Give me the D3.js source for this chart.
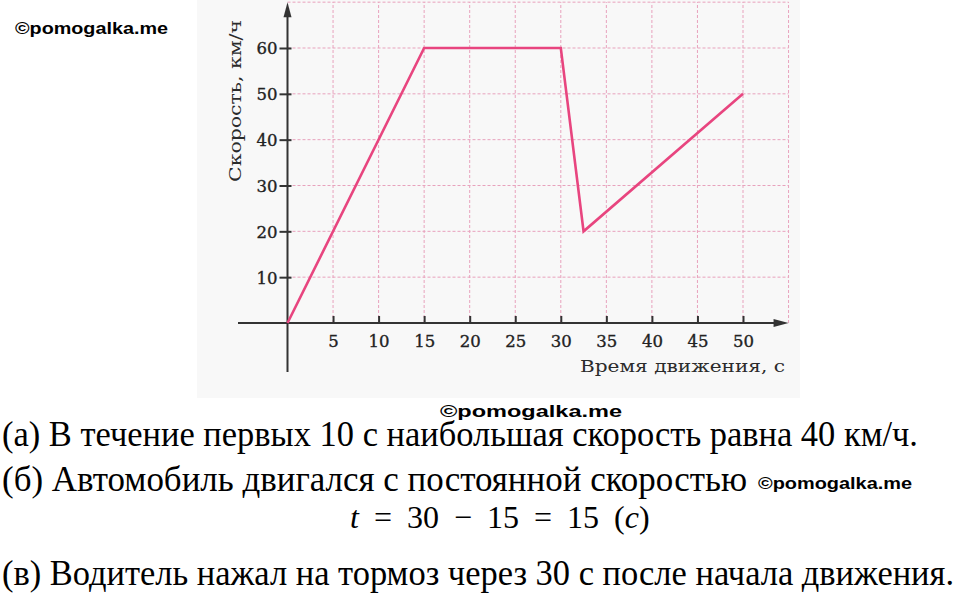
<!DOCTYPE html>
<html>
<head>
<meta charset="utf-8">
<script src="https://cdn.jsdelivr.net/npm/d3@7"></script>
<style>
  html, body { margin: 0; padding: 0; background: #ffffff; }
  svg { display: block; }
</style>
</head>
<body>
<svg id="chart" width="960" height="594"></svg>
<script>
// ---- data ----
const times = [0, 15, 30, 32.5, 50];
const speeds = [0, 60, 60, 20, 50];
const xTicks = [5, 10, 15, 20, 25, 30, 35, 40, 45, 50];
const yTicks = [10, 20, 30, 40, 50, 60];
const xGrid = [5, 10, 15, 20, 25, 30, 35, 40, 45, 50, 55];
const yGrid = [10, 20, 30, 40, 50, 60, 70];
const yTitle = "Скорость, км/ч";
const xTitle = "Время движения, с";
const lineA = "(а) В течение первых 10 с наибольшая скорость равна 40 км/ч.";
const lineB = "(б) Автомобиль двигался с постоянной скоростью";
const lineC = "(в) Водитель нажал на тормоз через 30 с после начала движения.";
const watermark = "©pomogalka.me";

const serif = "'Liberation Serif', 'Times New Roman', serif";
const svg = d3.select("#chart");

// ---- scales ----
const x = d3.scaleLinear().domain([0, 50]).range([287.5, 743]);
const y = d3.scaleLinear().domain([0, 60]).range([323, 48]);

// chart picture background
svg.append("rect").attr("x", 197).attr("y", 0).attr("width", 603).attr("height", 398)
  .attr("fill", "#f8f8f8");

// grid
const grid = svg.append("g").attr("stroke", "#e8a2bd").attr("stroke-width", 1)
  .attr("stroke-dasharray", "3,2").attr("fill", "none");
grid.selectAll("line.v").data(xGrid).join("line").attr("class", "v")
  .attr("x1", d => x(d)).attr("x2", d => x(d))
  .attr("y1", y(0)).attr("y2", y(70));
grid.selectAll("line.h").data(yGrid).join("line").attr("class", "h")
  .attr("x1", x(0)).attr("x2", x(55))
  .attr("y1", d => y(d)).attr("y2", d => y(d));

const axisColor = "#333";
// axes lines
svg.append("line").attr("x1", 238).attr("x2", x(55) - 8).attr("y1", y(0)).attr("y2", y(0))
  .attr("stroke", axisColor).attr("stroke-width", 2);
svg.append("line").attr("x1", x(0)).attr("x2", x(0)).attr("y1", 372).attr("y2", y(70) + 8)
  .attr("stroke", axisColor).attr("stroke-width", 2);
// arrowheads
const xa = x(55), ya = y(0);
svg.append("path").attr("d", `M${xa},${ya} L${xa - 15},${ya - 4} L${xa - 15},${ya + 4} Z`).attr("fill", axisColor);
const xb = x(0), yb = y(70);
svg.append("path").attr("d", `M${xb},${yb} L${xb - 4},${yb + 15} L${xb + 4},${yb + 15} Z`).attr("fill", axisColor);

// x axis ticks & labels
const xAxis = d3.axisBottom(x).tickValues(xTicks).tickSize(0).tickPadding(0);
const gx = svg.append("g").attr("transform", `translate(0,${y(0)})`).call(xAxis);
gx.select(".domain").remove();
gx.selectAll(".tick line").remove();
gx.selectAll(".tick").append("line").attr("y1", -7).attr("y2", 0)
  .attr("stroke", axisColor).attr("stroke-width", 2);
gx.selectAll(".tick text").attr("y", 24).attr("dy", null)
  .attr("font-family", "DejaVu Serif").attr("font-size", 16.5).attr("fill", "#222")
  .attr("stroke", "#222").attr("stroke-width", 0.35);

// y axis ticks & labels
const yAxis = d3.axisLeft(y).tickValues(yTicks).tickSize(0).tickPadding(0);
const gy = svg.append("g").attr("transform", `translate(${x(0)},0)`).call(yAxis);
gy.select(".domain").remove();
gy.selectAll(".tick line").remove();
gy.selectAll(".tick").append("line").attr("x1", -8).attr("x2", 4)
  .attr("stroke", axisColor).attr("stroke-width", 2);
gy.selectAll(".tick text").attr("x", -10).attr("dy", "0.36em")
  .attr("font-family", "DejaVu Serif").attr("font-size", 16.5).attr("fill", "#222")
  .attr("stroke", "#222").attr("stroke-width", 0.35);

// axis titles
svg.append("text").attr("transform", `translate(241,101) rotate(-90)`)
  .attr("text-anchor", "middle").attr("font-family", "DejaVu Serif").attr("font-size", 17)
  .attr("fill", "#2b2b2b").attr("textLength", 162).attr("lengthAdjust", "spacingAndGlyphs")
  .text(yTitle);
svg.append("text").attr("x", 580).attr("y", 372)
  .attr("font-family", "DejaVu Serif").attr("font-size", 17)
  .attr("fill", "#2b2b2b").attr("textLength", 205).attr("lengthAdjust", "spacingAndGlyphs")
  .text(xTitle);

// data line
const pts = times.map((t, i) => [t, speeds[i]]);
svg.append("path").datum(pts)
  .attr("d", d3.line().x(d => x(d[0])).y(d => y(d[1])))
  .attr("fill", "none").attr("stroke", "#e8457f").attr("stroke-width", 2.6)
  .attr("stroke-linejoin", "miter");

// ---- text below ----
function bodyText(str, xx, yy, len) {
  svg.append("text").attr("x", xx).attr("y", yy)
    .attr("font-family", serif).attr("font-size", 35).attr("fill", "#000")
    .attr("textLength", len).attr("lengthAdjust", "spacingAndGlyphs").text(str);
}
bodyText(lineA, 2, 446, 916);
bodyText(lineB, 2, 491, 745);
bodyText(lineC, 2, 585, 952);

// formula
const f = svg.append("text").attr("x", 350).attr("y", 528)
  .attr("font-family", serif).attr("font-size", 32).attr("fill", "#000")
  .attr("word-spacing", 7);
f.append("tspan").attr("font-style", "italic").text("t");
f.append("tspan").text(" = 30 − 15 = 15 (");
f.append("tspan").attr("font-style", "italic").text("c");
f.append("tspan").text(")");

// watermarks
function wm(xx, yy, len, size) {
  svg.append("text").attr("x", xx).attr("y", yy)
    .attr("font-family", "Liberation Sans, Arial, sans-serif").attr("font-weight", "bold").attr("font-size", size)
    .attr("fill", "#000").attr("textLength", len).attr("lengthAdjust", "spacingAndGlyphs")
    .text(watermark);
}
wm(15, 34, 153, 16);
wm(440, 417, 182, 16);
wm(758, 489, 154, 16);
</script>
</body>
</html>
